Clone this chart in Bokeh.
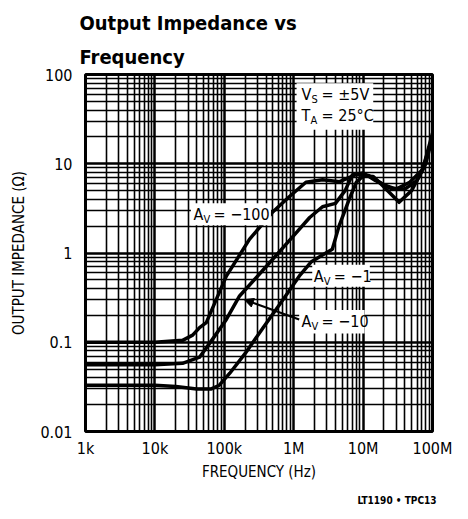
from bokeh.plotting import figure
from bokeh.models import FixedTicker, Label, BoxAnnotation, Arrow, NormalHead, Title
from bokeh.embed import file_html
from bokeh.resources import INLINE

# ---- data ----
freq_av100 = [1e3, 1e4, 2.5e4, 3.5e4, 4.4e4, 5.5e4, 1.07e5, 2.3e5, 4.9e5, 8.7e5,
              1.5e6, 2.6e6, 4.6e6, 8e6, 1.2e7, 2e7, 3e7, 4.7e7, 7.2e7, 1e8]
z_av100 = [0.1, 0.1, 0.105, 0.12, 0.146, 0.166, 0.55, 1.42, 2.84, 4.3,
           6.2, 6.6, 6.3, 7.6, 7.4, 5.8, 5.2, 6.2, 8.6, 20]

freq_av10 = [1e3, 1e4, 2.5e4, 4.4e4, 6.7e4, 1.07e5, 1.66e5, 4.05e5, 1.1e6, 1.7e6,
             2.6e6, 4e6, 5.5e6, 7e6, 1e7, 1.5e7, 2.5e7, 4e7, 6e7, 8e7, 1e8]
z_av10 = [0.056, 0.056, 0.058, 0.068, 0.107, 0.18, 0.33, 0.71, 1.7, 2.5,
          3.3, 3.6, 5.0, 7.5, 7.9, 6.5, 5.3, 5.2, 6.5, 10, 20]

freq_av1 = [1e3, 1e4, 2e4, 4e4, 6.5e4, 8.5e4, 1.2e5, 2e5, 3.5e5, 7e5, 1.2e6,
            1.8e6, 2.6e6, 3.6e6, 4.5e6, 6.3e6, 8e6, 1e7, 1.4e7, 2e7, 3.3e7,
            5e7, 7.2e7, 1e8]
z_av1 = [0.033, 0.033, 0.032, 0.030, 0.030, 0.033, 0.045, 0.075, 0.14, 0.30, 0.55,
         0.8, 0.95, 1.1, 2.0, 4.0, 6.2, 7.3, 7.2, 5.5, 3.7,
         5.0, 8.6, 22]

x_ticks = [1e3, 1e4, 1e5, 1e6, 1e7, 1e8]
x_tick_labels = ["1k", "10k", "100k", "1M", "10M", "100M"]
y_ticks = [0.01, 0.1, 1, 10, 100]
y_tick_labels = ["0.01", "0.1", "1", "10", "100"]

FONT = "DejaVu Sans Condensed"

def minors(decades):
    out = []
    for d in decades[:-1]:
        out += [d * k for k in range(2, 10)]
    return out

p = figure(frame_width=347, frame_height=357, x_axis_type="log", y_axis_type="log",
           x_range=(1e3, 1e8), y_range=(0.01, 100),
           output_backend="svg", toolbar_location=None, title=None,
           min_border_left=85, min_border_right=20, min_border_top=74,
           min_border_bottom=72, background_fill_color="white",
           border_fill_color="white")

p.xaxis.ticker = FixedTicker(ticks=x_ticks, minor_ticks=minors(x_ticks))
p.yaxis.ticker = FixedTicker(ticks=y_ticks, minor_ticks=minors(y_ticks))
p.xaxis.major_label_overrides = {t: l for t, l in zip(x_ticks, x_tick_labels)}
p.yaxis.major_label_overrides = {t: l for t, l in zip(y_ticks, y_tick_labels)}

for ax in (p.xaxis, p.yaxis):
    ax.axis_line_color = None
    ax.major_tick_line_color = None
    ax.minor_tick_line_color = None
    ax.major_tick_out = 0
    ax.minor_tick_out = 0
    ax.major_label_text_font = FONT
    ax.major_label_text_font_size = "16px"
    ax.major_label_text_color = "black"
    ax.axis_label_text_font = FONT
    ax.axis_label_text_font_size = "15px"
    ax.axis_label_text_font_style = "normal"
    ax.axis_label_text_color = "black"

p.xaxis.axis_label = "FREQUENCY (Hz)"
p.yaxis.axis_label = "OUTPUT IMPEDANCE (\u03a9)"
p.xaxis.major_label_standoff = 7
p.xaxis.axis_label_standoff = 2
p.yaxis.major_label_standoff = 13
p.yaxis.axis_label_standoff = 9

for g in (p.xgrid, p.ygrid):
    g.grid_line_color = "black"
    g.grid_line_width = 2.5
    g.grid_line_alpha = 1
    g.minor_grid_line_color = "black"
    g.minor_grid_line_width = 1.6

p.outline_line_color = "black"
p.outline_line_width = 3

for fx, zy in ((freq_av100, z_av100), (freq_av10, z_av10), (freq_av1, z_av1)):
    p.line(fx, zy, line_color="black", line_width=3.5, line_join="round")

# white boxes behind annotations
p.add_layout(BoxAnnotation(left=1.1e6, right=1.4e7, bottom=24, top=80,
                           fill_color="white", fill_alpha=1, line_color=None))
p.add_layout(BoxAnnotation(left=3.3e4, right=4.7e5, bottom=2.05, top=3.6,
                           fill_color="white", fill_alpha=1, line_color=None))
p.add_layout(BoxAnnotation(left=1.85e6, right=1.25e7, bottom=0.42, top=0.74,
                           fill_color="white", fill_alpha=1, line_color=None))
p.add_layout(BoxAnnotation(left=1.2e6, right=1.05e7, bottom=0.125, top=0.23,
                           fill_color="white", fill_alpha=1, line_color=None))

def sub_label(x, y, main, sub, rest, sub_dx, rest_dx, size="16px"):
    p.add_layout(Label(x=x, y=y, text=main, text_font=FONT, text_font_size=size,
                       text_color="black", text_baseline="middle", text_align="left"))
    p.add_layout(Label(x=x, y=y, x_offset=sub_dx, y_offset=-5, text=sub, text_font=FONT,
                       text_color="black", text_font_size="11px",
                       text_baseline="middle", text_align="left"))
    p.add_layout(Label(x=x, y=y, x_offset=rest_dx, text=rest, text_font=FONT,
                       text_color="black", text_font_size=size,
                       text_baseline="middle", text_align="left"))

sub_label(3.6e4, 2.7, "A", "V", "= \u2212100", 10, 20)
sub_label(1.95e6, 0.55, "A", "V", "= \u22121", 10, 20)
sub_label(1.3e6, 0.17, "A", "V", "= \u221210", 10, 20)
sub_label(1.3e6, 60, "V", "S", "= \u00b15V", 10, 20)
sub_label(1.3e6, 35, "T", "A", "= 25\u00b0C", 9, 20)

# arrow from A_V = -10 label to its curve
p.add_layout(Arrow(x_start=1.2e6, y_start=0.18, x_end=1.95e5, y_end=0.30,
                   line_color="black", line_width=2,
                   end=NormalHead(size=9, fill_color="black", line_color="black")))

# title (two lines); later-added titles sit further from the plot
p.add_layout(Title(text="Frequency", text_font=FONT, text_font_size="20px",
                   text_color="black", text_font_style="bold", align="left",
                   offset=-6, standoff=12), "above")
p.add_layout(Title(text="Output Impedance vs", text_font=FONT, text_font_size="20px",
                   text_color="black", text_font_style="bold", align="left",
                   offset=-6, standoff=4), "above")

# footer code
p.add_layout(Title(text="LT1190 \u2022 TPC13", text_font=FONT, text_font_size="10px",
                   text_color="black", text_font_style="bold", align="right",
                   offset=-4, standoff=18), "below")

open("out.html", "w").write(file_html(p, INLINE))
